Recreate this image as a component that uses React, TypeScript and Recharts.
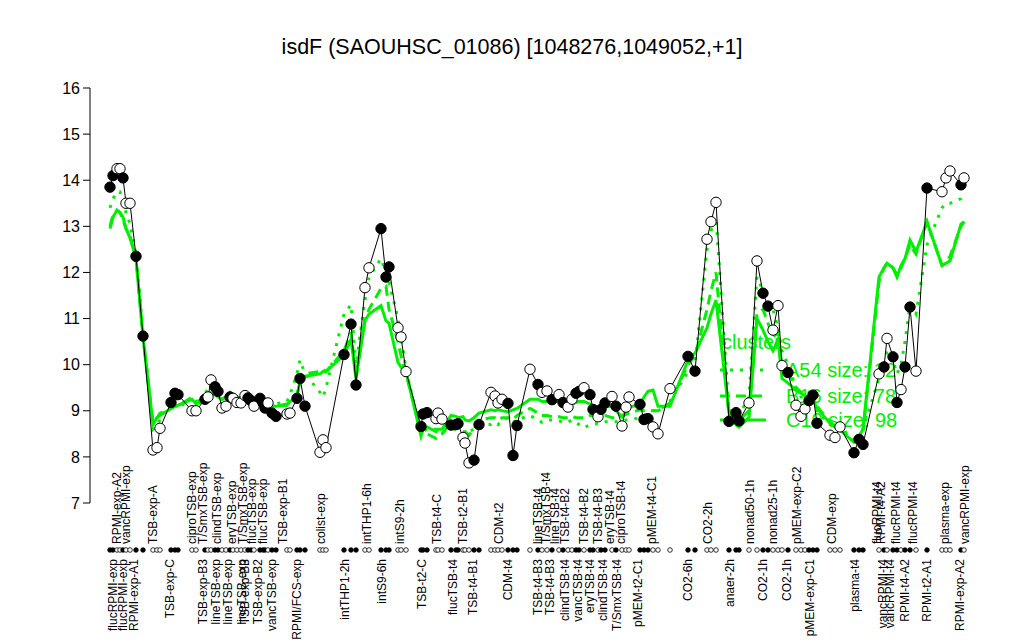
import React from 'react';
import { LineChart, Line, XAxis, YAxis } from 'recharts';

// condition slot (order position along the x axis)
const positions = [
  0, 3, 7, 10, 13, 16, 20, 26, 33, 43,
  47, 50, 61, 65, 68, 82, 86, 95, 98, 101,
  105, 108, 112, 116, 120, 123, 127, 131, 135, 138,
  141, 144, 150, 153, 155, 158, 162, 166, 177, 180,
  187, 190, 195, 210, 213, 216, 234, 241, 246, 255,
  259, 271, 276, 279, 288, 291, 296, 311, 313, 317,
  326, 328, 332, 341, 346, 348, 353, 355, 359, 364,
  369, 381, 385, 388, 392, 398, 403, 407, 420, 428,
  432, 437, 442, 449, 453, 458, 462, 466, 469, 474,
  480, 483, 488, 491, 495, 502, 506, 512, 516, 519,
  530, 534, 538, 543, 548, 560, 578, 585, 597, 601,
  606, 619, 626, 629, 639, 647, 653, 658, 663, 668,
  672, 678, 686, 691, 695, 699, 703, 707, 720, 725,
  730, 744, 749, 753, 769, 774, 777, 783, 787, 791,
  795, 800, 806, 817, 832, 836, 840, 851, 854,
];

// expression values (black line)
const expr = [
  13.85, 14.1, 14.25, 14.25, 14.05, 13.5, 13.5, 12.35, 10.62, 8.15,
  8.2, 8.62, 9.18, 9.38, 9.35, 9.0, 9.0, 9.25, 9.3, 9.67,
  9.52, 9.42, 9.06, 9.1, 9.3, 9.27, 9.18, 9.17, 9.33, 9.28,
  9.22, 9.1, 9.27, 9.17, 9.06, 9.17, 8.95, 8.88, 8.93, 8.95,
  9.27, 9.7, 9.1, 8.1, 8.37, 8.2, 10.22, 10.88, 9.56, 11.67,
  12.1, 12.95, 11.9, 12.12, 10.8, 10.6, 9.85, 8.66, 8.93, 8.96,
  8.83, 8.95, 8.82, 8.69, 8.7, 8.72, 8.42, 8.3, 7.87, 7.93,
  8.7, 9.4, 9.32, 9.17, 9.25, 9.16, 8.03, 8.68, 9.9, 9.57,
  9.4, 9.43, 9.24, 9.35, 9.18, 9.08, 9.25, 9.38, 9.42, 9.5,
  9.35, 9.03, 8.87, 9.03, 9.17, 9.31, 9.1, 8.67, 9.08, 9.3,
  9.14, 8.81, 8.83, 8.65, 8.5, 9.48, 10.18, 9.86, 12.72, 13.1,
  13.52, 8.77, 8.96, 8.78, 9.17, 12.25, 11.55, 11.27, 10.75, 11.28,
  9.98, 9.83, 9.12, 8.88, 9.04, 9.22, 9.34, 8.73, 8.47, 8.42,
  8.65, 8.09, 8.38, 8.27, 9.8, 9.95, 10.57, 10.17, 9.18, 9.46,
  9.95, 11.25, 9.86, 13.83, 13.75, 14.05, 14.2, 13.9, 14.05,
];

// 1 = filled marker, 0 = open marker
const filled = [
  1, 1, 0, 0, 1, 0, 0, 1, 1, 0,
  0, 0, 1, 1, 1, 0, 0, 1, 0, 0,
  1, 1, 0, 0, 1, 0, 0, 0, 0, 1,
  1, 0, 1, 1, 1, 0, 1, 1, 0, 0,
  1, 1, 1, 0, 0, 0, 1, 1, 1, 0,
  0, 1, 1, 1, 0, 0, 0, 1, 1, 1,
  0, 0, 0, 1, 1, 1, 0, 0, 0, 1,
  1, 0, 0, 0, 0, 1, 1, 1, 0, 1,
  0, 0, 1, 0, 1, 0, 0, 1, 1, 0,
  1, 1, 0, 1, 1, 0, 1, 0, 0, 0,
  1, 1, 1, 0, 0, 0, 1, 1, 0, 0,
  0, 1, 1, 1, 0, 0, 1, 1, 0, 0,
  0, 1, 0, 0, 0, 1, 1, 1, 0, 0,
  0, 1, 1, 1, 0, 1, 0, 1, 1, 0,
  1, 1, 0, 1, 0, 0, 0, 1, 0,
];

// cluster A (dotted)
const clusterA = [
  13.4, 13.6, 13.75, 13.75, 13.55, 13.3, 13.05, 12.4, 10.7, 8.6,
  8.7, 8.8, 9.2, 9.3, 9.2, 9.0, 8.95, 9.4, 9.45, 9.6,
  9.5, 9.35, 9.25, 9.3, 9.4, 9.35, 9.3, 9.28, 9.35, 9.4,
  9.3, 9.25, 9.3, 9.25, 9.2, 9.25, 9.2, 9.15, 9.2, 9.35,
  9.8, 10.1, 9.8, 9.4, 9.3, 9.5, 11.1, 11.3, 10.0, 11.4,
  11.9, 12.3, 12.0, 11.8, 11.0, 10.6, 9.9, 8.5, 8.55, 8.6,
  8.6, 8.6, 8.55, 8.6, 8.6, 8.6, 8.55, 8.5, 8.55, 8.6,
  8.7, 8.7, 8.75, 8.7, 8.8, 8.85, 8.75, 8.8, 8.9, 8.8,
  8.75, 8.8, 8.8, 8.78, 8.75, 8.75, 8.8, 8.75, 8.7, 8.63,
  8.7, 8.72, 8.72, 8.74, 8.76, 8.76, 8.76, 8.78, 8.8, 8.8,
  8.85, 8.9, 8.95, 9.0, 9.0, 9.2, 9.85, 10.0, 12.5, 12.9,
  13.2, 9.0, 9.0, 8.9, 9.3, 11.9, 11.6, 11.4, 11.2, 10.8,
  10.3, 10.0, 9.5, 9.3, 9.3, 9.4, 9.3, 9.0, 8.7, 8.65,
  8.7, 8.3, 8.45, 8.6, 9.7, 10.0, 10.3, 10.1, 9.8, 10.0,
  10.5, 11.3, 11.1, 12.6, 13.4, 13.5, 13.5, 13.6, 13.7,
];

// cluster B (dashed)
const clusterB = [
  13.0, 13.25, 13.35, 13.3, 13.15, 12.95, 12.8, 12.3, 10.6, 8.75,
  8.85, 8.95, 9.05, 9.1, 9.1, 9.3, 9.2, 9.25, 9.35, 9.4,
  9.35, 9.3, 9.25, 9.3, 9.3, 9.3, 9.3, 9.25, 9.3, 9.3,
  9.22, 9.2, 9.22, 9.2, 9.2, 9.15, 9.1, 9.1, 9.15, 9.2,
  9.35, 9.7, 9.8, 9.85, 9.9, 9.85, 10.3, 10.7, 9.75, 11.0,
  11.2, 11.65, 11.7, 11.2, 10.5, 10.2, 9.8, 8.55, 8.6, 8.5,
  8.4, 8.45, 8.5, 8.75, 8.75, 8.7, 8.6, 8.55, 8.47, 8.6,
  8.8, 8.85, 8.85, 8.8, 8.85, 8.85, 8.8, 8.9, 9.05, 8.95,
  8.9, 8.9, 8.87, 8.87, 8.85, 8.85, 8.88, 8.85, 8.85, 8.85,
  8.9, 8.9, 8.88, 8.9, 8.9, 8.85, 8.85, 8.88, 8.92, 8.95,
  9.02, 9.0, 9.0, 9.0, 9.0, 9.17, 10.0, 10.2, 11.2, 11.6,
  12.0, 8.9, 8.85, 8.8, 9.0, 11.1, 11.2, 10.9, 10.6, 10.7,
  10.0, 9.85, 9.5, 9.4, 9.3, 9.3, 9.25, 9.1, 8.75, 8.68,
  8.6, 8.35, 8.5, 8.55, 11.8, 12.1, 12.2, 12.1, 11.95, 12.1,
  12.3, 12.6, 12.4, 13.1, 12.15, 12.2, 12.35, 13.0, 13.1,
];

// cluster C (solid)
const clusterC = [
  12.95, 13.2, 13.35, 13.3, 13.2, 12.95, 12.75, 12.3, 10.6, 8.7,
  8.85, 8.9, 9.05, 9.1, 9.12, 9.25, 9.15, 9.2, 9.3, 9.35,
  9.35, 9.3, 9.25, 9.3, 9.3, 9.28, 9.3, 9.25, 9.3, 9.3,
  9.25, 9.2, 9.22, 9.2, 9.15, 9.15, 9.1, 9.1, 9.12, 9.2,
  9.3, 9.65, 9.75, 9.8, 9.85, 9.85, 10.2, 10.55, 9.7, 10.95,
  11.1, 11.28, 10.95, 10.9, 10.05, 9.95, 9.85, 8.45, 8.6, 8.65,
  8.55, 8.6, 8.6, 8.9, 8.88, 8.85, 8.87, 8.8, 8.78, 8.85,
  8.95, 9.02, 9.0, 9.02, 9.0, 8.98, 9.02, 9.05, 9.25, 9.25,
  9.2, 9.2, 9.22, 9.2, 9.15, 9.1, 9.15, 9.18, 9.2, 9.2,
  9.15, 9.05, 9.02, 9.02, 9.08, 9.1, 9.0, 8.87, 9.0, 9.08,
  9.13, 9.3, 9.42, 9.45, 9.1, 9.1, 10.1, 10.25, 10.8, 11.1,
  11.4, 8.95, 8.7, 8.65, 8.85, 11.0, 10.75, 10.5, 10.3, 10.55,
  9.7, 9.6, 9.45, 9.38, 9.33, 9.28, 9.23, 9.05, 8.73, 8.65,
  8.58, 8.32, 8.45, 8.6, 11.9, 12.1, 12.2, 12.1, 11.9, 12.15,
  12.3, 12.7, 12.45, 13.1, 12.15, 12.2, 12.25, 13.05, 13.1,
];

// condition labels (upper row)
const topLabelPos = [
  7, 16, 43, 82, 93, 107, 122, 133, 142, 153,
  173, 211, 257, 290, 327, 353, 389, 428, 436, 445,
  455, 474, 488, 500, 511, 542, 598, 640, 663, 687,
  722, 767, 771, 786, 803, 835, 855,
];
const topLabels = [
  'RPMI-exp-A2', 'vancRPMI-exp', 'TSB-exp-A', 'ciproTSB-exp', 'T/SmxTSB-exp', 'clindTSB-exp', 'eryTSB-exp', 'T/SmxTSB-exp', 'flucTSB-exp', 'flucTSB-exp',
  'TSB-exp-B1', 'colist-exp', 'intTHP1-6h', 'intS9-2h', 'TSB-t4-C', 'TSB-t2-B1', 'CDM-t2', 'lineTSB-t4', 'T/SmxTSB-t4', 'lineTSB-t4',
  'TSB-t4-B2', 'TSB-t4-B2', 'TSB-t4-B3', 'eryTSB-t4', 'ciproTSB-t4', 'pMEM-t4-C1', 'CO2-2h', 'nonad50-1h', 'nonad25-1h', 'pMEM-exp-C2',
  'CDM-exp', 'flucRPMI-t4', 'RPMI-t4-A2', 'flucRPMI-t4', 'flucRPMI-t4', 'plasma-exp', 'vancRPMI-exp',
];

// condition labels (lower row)
const bottomLabelPos = [
  3, 13, 24, 60, 93, 106, 118, 132, 135, 148,
  162, 187, 235, 272, 312, 343, 363, 398, 428, 440,
  455, 468, 480, 493, 507, 528, 578, 620, 653, 677,
  700, 745, 773, 780, 795, 817, 850,
];
const bottomLabels = [
  'flucRPMI-exp', 'flucRPMI-exp', 'RPMI-exp-A1', 'TSB-exp-C', 'TSB-exp-B3', 'lineTSB-exp', 'lineTSB-exp', 'lineTSB-exp', 'TSB-exp-B3', 'TSB-exp-B2',
  'vancTSB-exp', 'RPMI/FCS-exp', 'intTHP1-2h', 'intS9-6h', 'TSB-t2-C', 'flucTSB-t4', 'TSB-t4-B1', 'CDM-t4', 'TSB-t4-B3', 'TSB-t4-B3',
  'clindTSB-t4', 'vancTSB-t4', 'eryTSB-t4', 'clindTSB-t4', 'T/SmxTSB-t4', 'pMEM-t2-C1', 'CO2-6h', 'anaer-2h', 'CO2-1h', 'CO2-1h',
  'pMEM-exp-C1', 'plasma-t4', 'vancRPMI-t4', 'vancRPMI-t4', 'RPMI-t4-A2', 'RPMI-t2-A1', 'RPMI-exp-A2',
];

const yTicks = [7, 8, 9, 10, 11, 12, 13, 14, 15, 16];
const titleText = 'isdF (SAOUHSC_01086) [1048276,1049052,+1]';
const legendTitle = 'clusters';
const legendLabels = ['A54 size: 12', 'B16 size: 78', 'C10 size: 98'];
const legendDash = ['3 7', '10 6', ''];

const GREEN = '#00ee00';
const FONT = '"Liberation Sans", Arial, Helvetica, sans-serif';

const W = 1024;
const H = 640;
const X_DOMAIN: [number, number] = [-20, 875];

const data = positions.map((p, i) => ({
  pos: p,
  expr: expr[i],
  filled: filled[i],
  a: clusterA[i],
  b: clusterB[i],
  c: clusterC[i],
}));

const dotIndex = new Map(positions.map((p, i) => [p, i]));
const topIndex = new Map(topLabelPos.map((p, i) => [p, i]));
const bottomIndex = new Map(bottomLabelPos.map((p, i) => [p, i]));

const ROW_DOT_Y = 550;
const TOP_LABEL_Y = 544;
const BOTTOM_LABEL_Y = 559;

function DotTick(props: any) {
  const { x, payload } = props;
  const i = dotIndex.get(payload.value);
  const f = i !== undefined ? filled[i] : 0;
  return (
    <circle cx={x} cy={ROW_DOT_Y} r={2.3} fill={f ? '#000' : '#fff'} stroke="#000" strokeWidth={0.8} />
  );
}

function TopTick(props: any) {
  const { x, payload } = props;
  const i = topIndex.get(payload.value);
  if (i === undefined) return null;
  return (
    <text
      transform={`translate(${x},${TOP_LABEL_Y}) rotate(-90)`}
      textAnchor="start"
      dy="0.35em"
      fontSize={12}
      fontFamily={FONT}
      fill="#000"
    >
      {topLabels[i]}
    </text>
  );
}

function BottomTick(props: any) {
  const { x, payload } = props;
  const i = bottomIndex.get(payload.value);
  if (i === undefined) return null;
  return (
    <text
      transform={`translate(${x},${BOTTOM_LABEL_Y}) rotate(-90)`}
      textAnchor="end"
      dy="0.35em"
      fontSize={12}
      fontFamily={FONT}
      fill="#000"
    >
      {bottomLabels[i]}
    </text>
  );
}

function Marker(props: any) {
  const { cx, cy, payload, index } = props;
  if (cx == null || cy == null) return <g key={`m${index}`} />;
  return (
    <circle
      key={`m${index}`}
      cx={cx}
      cy={cy}
      r={5.2}
      fill={payload.filled ? '#000' : '#fff'}
      stroke="#000"
      strokeWidth={1}
    />
  );
}

function Background() {
  const rowsY = [370, 396, 420];
  return (
    <svg width={W} height={H} style={{ position: 'absolute', left: 0, top: 0 }}>
      <rect x={0} y={0} width={W} height={H} fill="#fff" />
      <text x={512} y={54} textAnchor="middle" fontSize={21.5} fontFamily={FONT} fill="#000">
        {titleText}
      </text>
      <text x={722} y={349} fontSize={20} fontFamily={FONT} fill={GREEN}>
        {legendTitle}
      </text>
      {legendLabels.map((lab, i) => (
        <g key={lab}>
          <line
            x1={720}
            x2={766}
            y1={rowsY[i]}
            y2={rowsY[i]}
            stroke={GREEN}
            strokeWidth={3}
            strokeDasharray={legendDash[i] || undefined}
          />
          <text x={786} y={rowsY[i] + 7} fontSize={20} fontFamily={FONT} fill={GREEN}>
            {lab}
          </text>
        </g>
      ))}
    </svg>
  );
}

export default function App() {
  return (
    <div style={{ position: 'absolute', left: 0, top: 0, width: W, height: H, background: '#fff' }}>
      <Background />
      <div style={{ position: 'absolute', left: 0, top: 0 }}>
        <LineChart
          width={W}
          height={H}
          data={data}
          margin={{ top: 88, right: 39, left: 0, bottom: 134 }}
        >
          <XAxis
            xAxisId="dots"
            dataKey="pos"
            type="number"
            domain={X_DOMAIN}
            allowDataOverflow
            ticks={positions}
            interval={0}
            height={1}
            axisLine={false}
            tickLine={false}
            tick={<DotTick />}
          />
          <XAxis
            xAxisId="top"
            dataKey="pos"
            type="number"
            domain={X_DOMAIN}
            allowDataOverflow
            ticks={topLabelPos}
            interval={0}
            height={1}
            axisLine={false}
            tickLine={false}
            tick={<TopTick />}
          />
          <XAxis
            xAxisId="bottom"
            dataKey="pos"
            type="number"
            domain={X_DOMAIN}
            allowDataOverflow
            ticks={bottomLabelPos}
            interval={0}
            height={1}
            axisLine={false}
            tickLine={false}
            tick={<BottomTick />}
          />
          <YAxis
            type="number"
            domain={[7, 16]}
            ticks={yTicks}
            interval={0}
            width={90}
            tickSize={7}
            tickMargin={3}
            axisLine={{ stroke: '#000', strokeWidth: 1 }}
            tickLine={{ stroke: '#000', strokeWidth: 1 }}
            tick={{ fontSize: 16, fill: '#000', fontFamily: FONT }}
          />
          <Line
            xAxisId="dots"
            dataKey="a"
            stroke={GREEN}
            strokeWidth={3}
            strokeDasharray="3 7"
            dot={false}
            activeDot={false}
            isAnimationActive={false}
            type="linear"
          />
          <Line
            xAxisId="dots"
            dataKey="b"
            stroke={GREEN}
            strokeWidth={3}
            strokeDasharray="10 6"
            dot={false}
            activeDot={false}
            isAnimationActive={false}
            type="linear"
          />
          <Line
            xAxisId="bottom"
            dataKey="c"
            stroke={GREEN}
            strokeWidth={3}
            dot={false}
            activeDot={false}
            isAnimationActive={false}
            type="linear"
          />
          <Line
            xAxisId="top"
            dataKey="expr"
            stroke="#000"
            strokeWidth={1}
            dot={<Marker />}
            activeDot={false}
            isAnimationActive={false}
            type="linear"
          />
        </LineChart>
      </div>
    </div>
  );
}
